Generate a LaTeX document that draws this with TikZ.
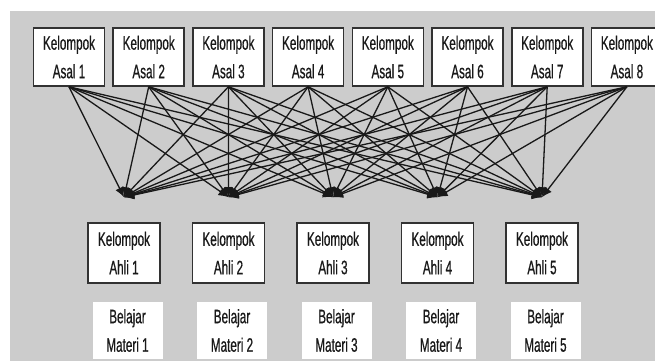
\documentclass[tikz,border=0pt]{standalone}
\usepackage{fontspec}
\setmainfont{Liberation Sans}[FakeStretch=0.6, FakeBold=0.6]
\usepackage{tikz}
\usetikzlibrary{positioning, arrows.meta}
\definecolor{panelgray}{RGB}{204,204,204}
\definecolor{boxline}{RGB}{50,50,50}
\definecolor{linkline}{RGB}{25,25,25}

\begin{document}
\begin{tikzpicture}[
  x=1pt, y=1pt,
  every node/.style={font=\fontsize{19.5}{28.5}\selectfont, text=black!90},
  group/.style={
    draw=boxline, fill=white, line width=1.6pt,
    minimum width=71pt, minimum height=58pt,
    align=center, inner sep=2pt
  },
  ahli/.style={group, minimum width=72pt, minimum height=60pt},
  task/.style={fill=white, minimum width=70pt, minimum height=57pt, align=center, inner sep=2pt},
  link/.style={-{Latex[length=10pt,width=9pt]}, line width=1.3pt, color=linkline},
]

% Panel
\useasboundingbox (0,0) rectangle (655,-361);
\fill[panelgray] (10,-11) rectangle (655,-361);

% Home groups
\node[group] (asal1) at (69,-57) {Kelompok\\Asal 1};
\node[group, right=7.1pt of asal1] (asal2) {Kelompok\\Asal 2};
\node[group, right=7.1pt of asal2] (asal3) {Kelompok\\Asal 3};
\node[group, right=7.1pt of asal3] (asal4) {Kelompok\\Asal 4};
\node[group, right=7.1pt of asal4] (asal5) {Kelompok\\Asal 5};
\node[group, right=7.1pt of asal5] (asal6) {Kelompok\\Asal 6};
\node[group, right=7.1pt of asal6] (asal7) {Kelompok\\Asal 7};
\node[group, right=7.1pt of asal7] (asal8) {Kelompok\\Asal 8};

% Expert groups
\node[ahli] (ahli1) at (124,-253) {Kelompok\\Ahli 1};
\node[ahli, right=30.9pt of ahli1] (ahli2) {Kelompok\\Ahli 2};
\node[ahli, right=30.9pt of ahli2] (ahli3) {Kelompok\\Ahli 3};
\node[ahli, right=30.9pt of ahli3] (ahli4) {Kelompok\\Ahli 4};
\node[ahli, right=30.9pt of ahli4] (ahli5) {Kelompok\\Ahli 5};

% Study material
\node[task, below=18pt of ahli1, xshift=3.5pt] (mat1) {Belajar\\Materi 1};
\node[task, below=18pt of ahli2, xshift=3.5pt] (mat2) {Belajar\\Materi 2};
\node[task, below=18pt of ahli3, xshift=3.5pt] (mat3) {Belajar\\Materi 3};
\node[task, below=18pt of ahli4, xshift=3.5pt] (mat4) {Belajar\\Materi 4};
\node[task, below=18pt of ahli5, xshift=3.5pt] (mat5) {Belajar\\Materi 5};

% Meeting points
\coordinate[above=25pt of ahli1] (meet1);
\coordinate[above=25pt of ahli2] (meet2);
\coordinate[above=25pt of ahli3] (meet3);
\coordinate[above=25pt of ahli4] (meet4);
\coordinate[above=25pt of ahli5] (meet5);

% Every home group sends one member to every expert group
\foreach \a in {1,...,8}
  \foreach \e in {1,...,5}
    \draw[link] (asal\a.south) -- (meet\e);

\end{tikzpicture}
\end{document}
